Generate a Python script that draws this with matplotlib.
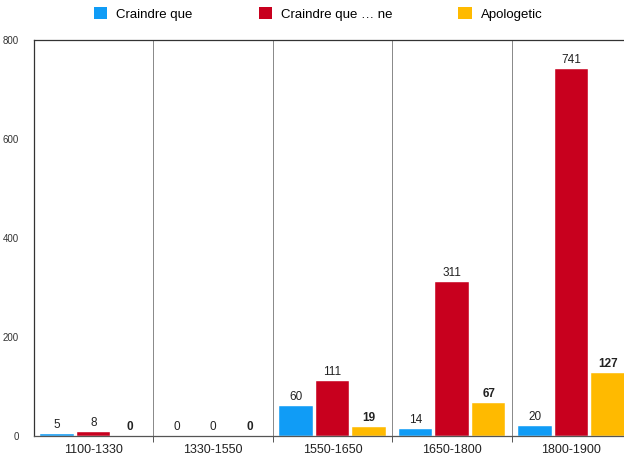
# craindre_plot.py
# counts of "craindre que" constructions per period, grouped bars
import matplotlib
matplotlib.use('Agg')
import matplotlib.pyplot as plt
from matplotlib.patches import Patch
import numpy

plt.rcParams['font.family'] = ['Liberation Sans', 'DejaVu Sans']

periods = ['1100-1330', '1330-1550', '1550-1650', '1650-1800', '1800-1900']
craindre_que = [5, 0, 60, 14, 20]
craindre_que_ne = [8, 0, 111, 311, 741]
apologetic = [0, 0, 19, 67, 127]

series_names = ['Craindre que', 'Craindre que … ne', 'Apologetic']
colors = ['#109cf6', '#c8001e', '#ffba00']

#-------------------------------------------------------------------------------
fig = plt.figure(figsize=(6.24, 4.55), dpi=100)
ax = fig.add_axes([34/624, 19/455, 590/624, 396/455])

ind = numpy.arange(len(periods))
width = 0.28
step = 0.306
all_series = [craindre_que, craindre_que_ne, apologetic]

for k, (vals, c) in enumerate(zip(all_series, colors)):
    pos = ind + (k - 1)*step
    bars = ax.bar(pos, vals, width, color=c, edgecolor='white', linewidth=0.3)
    for rect, v in zip(bars, vals):
        ax.text(rect.get_x() + rect.get_width()/2., rect.get_height() + 6, '%d' % v,
                ha='center', va='bottom', fontsize=8.5, color='#222222',
                fontweight='bold' if k == 2 else 'normal')

# group separators
for x in ind[1:] - 0.5:
    ax.axvline(x, color='#888888', linewidth=0.7, zorder=0)

ax.set_xlim(-0.5, 4.44)
ax.set_ylim(0, 800)
ax.set_yticks([0, 200, 400, 600, 800])
ax.set_xticks(ind)
ax.set_xticklabels(periods, fontsize=9, color='#222222')
ax.set_xticks(ind[1:] - 0.5, minor=True)
ax.tick_params(axis='x', which='major', length=0, pad=6)
ax.tick_params(axis='x', which='minor', length=4, width=0.7, color='#555555', direction='out')
ax.tick_params(axis='y', length=0, labelsize=7, labelcolor='#333333', pad=11)

ax.spines['right'].set_visible(False)
ax.spines['top'].set_color('#333333')
ax.spines['left'].set_color('#333333')
ax.spines['bottom'].set_color('#555555')
for s in ['top', 'left', 'bottom']:
    ax.spines[s].set_linewidth(0.9)

handles = [Patch(facecolor=c, edgecolor='none') for c in colors]
fig.legend(handles, series_names, loc='upper center', bbox_to_anchor=(0.51, 1.01),
           ncol=3, frameon=False, fontsize=9.5, handlelength=1.0, handleheight=1.0,
           columnspacing=5.0, handletextpad=0.7)

plt.savefig('out.png', dpi=100)
